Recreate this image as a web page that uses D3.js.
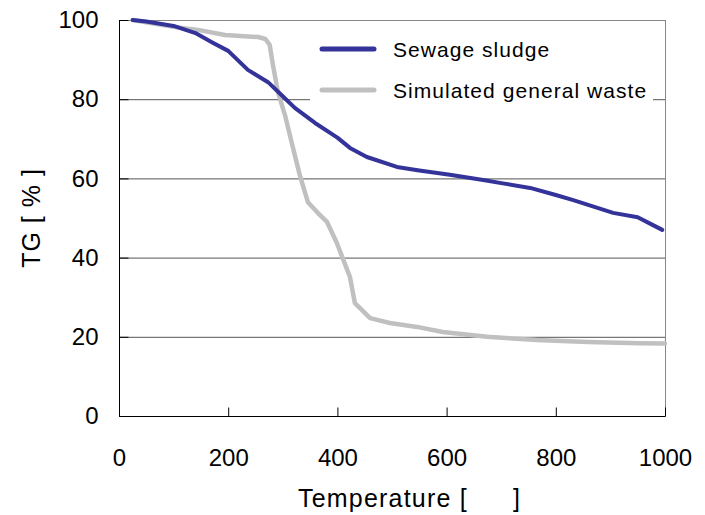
<!DOCTYPE html>
<html>
<head>
<meta charset="utf-8">
<script src="https://cdn.jsdelivr.net/npm/d3@7"></script>
<style>
  html, body { margin: 0; padding: 0; background: #fff; }
  svg { display: block; font-family: "Liberation Sans", Arial, sans-serif; }
</style>
</head>
<body>
<svg id="chart" width="705" height="515"></svg>
<script>
// ---- data ----
const sludgeTemp  = [25, 50, 100, 140, 170, 200, 236, 273, 298, 322, 359, 400, 423, 454, 509, 550, 606, 667, 700, 753, 800, 832, 905, 950, 978, 995];
const sludgeTG    = [100, 99.6, 98.5, 96.7, 94.4, 92.2, 87.4, 84.3, 81, 77.8, 74, 70.3, 67.7, 65.4, 62.9, 62, 60.9, 59.6, 58.8, 57.6, 55.8, 54.5, 51.3, 50.2, 48.2, 47];
const wasteTemp   = [25, 60, 103, 145, 194, 255, 268, 276, 282, 291, 304, 316, 331, 346, 364, 381, 399, 423, 432, 460, 496, 546, 593, 674, 765, 859, 954, 1000];
const wasteTG     = [100, 99.2, 98.2, 97.5, 96.2, 95.7, 95.2, 93.7, 88.6, 81.8, 76, 69.2, 60.9, 54, 51.3, 49, 43.7, 35.1, 28.5, 24.7, 23.5, 22.5, 21.2, 20, 19.2, 18.7, 18.4, 18.3];
const xTicks      = [0, 200, 400, 600, 800, 1000];
const yTicks      = [0, 20, 40, 60, 80, 100];
const seriesNames = ["Sewage sludge", "Simulated general waste"];
const seriesColors = ["#333399", "#c0c0c0"];

const svg = d3.select("#chart");
const L = 119, R = 665, T = 20, B = 416;

const x = d3.scaleLinear().domain([0, 1000]).range([L, R]);
const y = d3.scaleLinear().domain([0, 100]).range([B, T]);

// gridlines
svg.append("g").selectAll("line")
  .data(yTicks.filter(d => d > 0 && d < 100))
  .join("line")
  .attr("x1", L).attr("x2", R)
  .attr("y1", d => y(d) + 0.5).attr("y2", d => y(d) + 0.5)
  .attr("stroke", "#555").attr("stroke-width", 1);

// top & right border
svg.append("line").attr("x1", L).attr("x2", R + 0.5).attr("y1", T + 0.5).attr("y2", T + 0.5)
  .attr("stroke", "#888").attr("stroke-width", 1);
svg.append("line").attr("x1", R + 0.5).attr("x2", R + 0.5).attr("y1", T).attr("y2", B)
  .attr("stroke", "#888").attr("stroke-width", 1);

// series
const series = [
  { name: seriesNames[0], color: seriesColors[0], pts: sludgeTemp.map((t, i) => [t, sludgeTG[i]]) },
  { name: seriesNames[1], color: seriesColors[1], pts: wasteTemp.map((t, i) => [t, wasteTG[i]]) }
];
const line = d3.line().x(d => x(d[0])).y(d => y(d[1]));
// draw gray first, then blue on top
[series[1], series[0]].forEach(s => {
  svg.append("path").datum(s.pts)
    .attr("d", line)
    .attr("fill", "none")
    .attr("stroke", s.color)
    .attr("stroke-width", s === series[0] ? 4 : 4.5)
    .attr("stroke-linejoin", "round")
    .attr("stroke-linecap", "round");
});

// axes
const xAxis = d3.axisBottom(x).tickValues(xTicks).tickSize(-9).tickPadding(32).tickFormat(d3.format("d"));
const gx = svg.append("g").attr("transform", `translate(0,${B + 0.5})`).call(xAxis);
gx.select(".domain").attr("stroke", "#000").attr("d", `M${L},0H${R + 0.5}`);
gx.selectAll(".tick line").attr("stroke", "#000");
gx.selectAll(".tick text").attr("font-size", 24).attr("fill", "#000")
  .attr("font-family", "Liberation Sans, Arial, sans-serif");

const yAxis = d3.axisLeft(y).tickValues(yTicks).tickSize(-9).tickPadding(21).tickFormat(d3.format("d"));
const gy = svg.append("g").attr("transform", `translate(${L + 0.5},0)`).call(yAxis);
gy.select(".domain").attr("stroke", "#000").attr("d", `M0,${T}V${B + 0.5}`);
gy.selectAll(".tick line").attr("stroke", "#000");
gy.selectAll(".tick text").attr("font-size", 24).attr("fill", "#000")
  .attr("font-family", "Liberation Sans, Arial, sans-serif");

// legend
svg.append("rect").attr("x", 310).attr("y", 33).attr("width", 343).attr("height", 74).attr("fill", "#fff");
const leg = svg.append("g");
series.forEach((s, i) => {
  const cy = 49 + i * 41;
  leg.append("line").attr("x1", 322).attr("x2", 374).attr("y1", cy).attr("y2", cy)
    .attr("stroke", s.color).attr("stroke-width", 5).attr("stroke-linecap", "round");
  leg.append("text").attr("x", 393).attr("y", cy + 8)
    .attr("font-size", 21).attr("letter-spacing", 1.05).attr("fill", "#000")
    .text(s.name);
});

// axis titles
svg.append("text")
  .attr("x", 298).attr("y", 507)
  .attr("font-size", 25).attr("letter-spacing", 1.2).attr("fill", "#000")
  .text("Temperature [");
svg.append("text")
  .attr("x", 520).attr("y", 507)
  .attr("text-anchor", "end")
  .attr("font-size", 25).attr("fill", "#000")
  .text("]");

svg.append("text")
  .attr("transform", `translate(40,${(T + B) / 2}) rotate(-90)`)
  .attr("text-anchor", "middle")
  .attr("font-size", 25).attr("letter-spacing", 1).attr("fill", "#000")
  .style("white-space", "pre")
  .text("TG [ % ]");
</script>
</body>
</html>
